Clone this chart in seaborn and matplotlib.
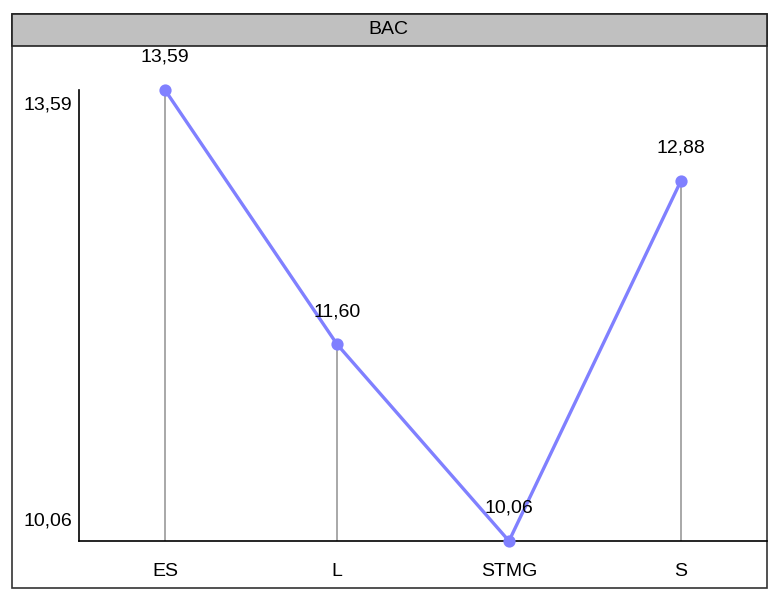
import matplotlib
matplotlib.use("Agg")
import matplotlib.pyplot as plt
import matplotlib.transforms as mtransforms
from matplotlib.patches import Rectangle
import seaborn as sns
import pandas as pd

categories = ["ES", "L", "STMG", "S"]
values = [13.59, 11.60, 10.06, 12.88]
value_labels = ["13,59", "11,60", "10,06", "12,88"]
ytick_values = [10.06, 13.59]
ytick_labels = ["10,06", "13,59"]
title = "BAC"

sns.set_theme(style="white")
plt.rcParams["font.family"] = ["Liberation Sans", "DejaVu Sans"]

W, H = 770, 591
FS = 14
fig = plt.figure(figsize=(W / 100, H / 100), dpi=100)

def fx(px):
    return px / W

def fy(py):
    return 1 - py / H

# outer frame and header bar
fig.patches.append(Rectangle((fx(12), fy(588)), fx(767) - fx(12), fy(14) - fy(588),
                             transform=fig.transFigure, facecolor="white",
                             edgecolor="#333333", linewidth=1.2, zorder=-2))
fig.patches.append(Rectangle((fx(12), fy(46)), fx(767) - fx(12), fy(14) - fy(46),
                             transform=fig.transFigure, facecolor="#C0C0C0",
                             edgecolor="#222222", linewidth=1.2, zorder=-1))
fig.text(fx(388), fy(30), title, ha="center", va="center", fontsize=FS, color="black")

ax = fig.add_axes([fx(79), fy(541), fx(767) - fx(79), fy(90) - fy(541)])
ax.set_zorder(5)
ax.set_facecolor("none")

df = pd.DataFrame({"cat": categories, "val": values})
ax.vlines(range(len(categories)), ytick_values[0], values, color="#999999", linewidth=1.2, zorder=1)
sns.pointplot(data=df, x="cat", y="val", color="#8080FF", markers="o", ax=ax,
              markersize=7, linewidth=2.4, zorder=3)
for coll in ax.collections:
    coll.set_clip_on(False)
for ln in ax.lines:
    ln.set_clip_on(False)

ax.set_xlim(-0.5, len(categories) - 0.5)
ax.set_ylim(ytick_values[0], ytick_values[1])

for i, (v, lab) in enumerate(zip(values, value_labels)):
    ax.annotate(lab, (i, v), xytext=(0, 23.5), textcoords="offset points",
                ha="center", va="center", fontsize=FS, color="black", zorder=5)

ax.set_xlabel("")
ax.set_ylabel("")
ax.set_yticks(ytick_values)
ax.set_yticklabels(ytick_labels)
ax.tick_params(axis="both", length=0, labelsize=FS, colors="black")
ax.tick_params(axis="x", pad=16)
ax.tick_params(axis="y", pad=5)
ylabs = ax.get_yticklabels()
offsets = [(0, 22 / 100), (0, -13.5 / 100)]
for lab, (dx, dy) in zip(ylabs, offsets):
    lab.set_transform(lab.get_transform() + mtransforms.ScaledTranslation(dx, dy, fig.dpi_scale_trans))

for s in ["top", "right"]:
    ax.spines[s].set_visible(False)
for s in ["left", "bottom"]:
    ax.spines[s].set_color("black")
    ax.spines[s].set_linewidth(1.2)

fig.savefig("out.png", dpi=100)
